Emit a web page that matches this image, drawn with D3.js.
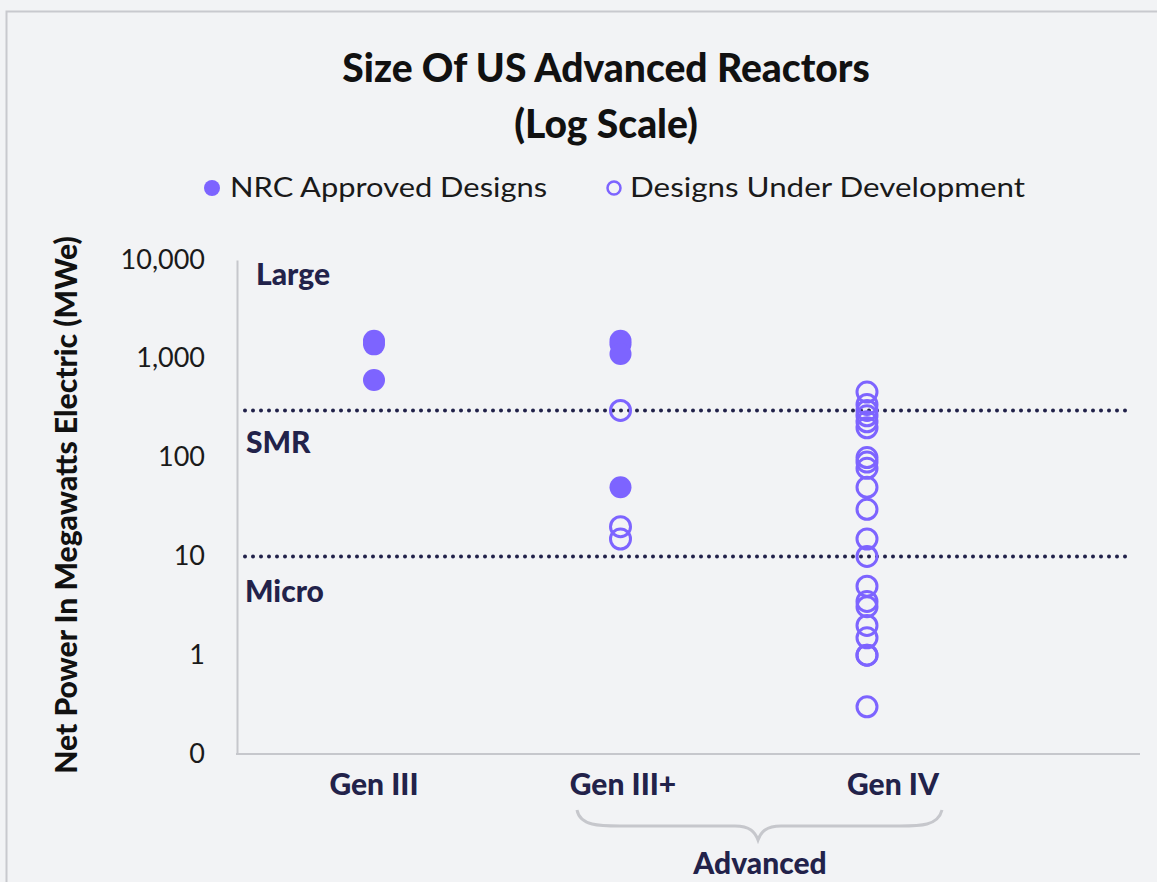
<!DOCTYPE html>
<html><head><meta charset="utf-8">
<script src="https://cdn.jsdelivr.net/npm/d3@7/dist/d3.min.js"></script>
<style>
html,body{margin:0;padding:0;background:#f2f3f5;}
svg{display:block;}
</style></head>
<body>
<script>
// ---- data ----
const categories = ["Gen III", "Gen III+", "Gen IV"];
const approvedGen3 = [1520, 1400, 610];
const approvedGen3Plus = [1520, 1400, 1117, 50];
const developmentGen3Plus = [300, 20, 15];
const developmentGen4 = [460, 345, 300, 265, 230, 200, 100, 90, 78, 50, 30, 15, 10, 5, 3.5, 3.1, 2, 1.5, 1, 1, 0.3];
const yTickValues = [0.1, 1, 10, 100, 1000, 10000];
const yTickLabels = ["0", "1", "10", "100", "1,000", "10,000"];
const thresholds = [300, 10];
const regionLabels = ["Large", "SMR", "Micro"];
const legendLabels = ["NRC Approved Designs", "Designs Under Development"];

const W = 1157, H = 882;
const purple = "#7d64ff", navy = "#22224a", axisGray = "#c6c7cc";
const FONT = "Lato, sans-serif";
const svg = d3.select("body").append("svg").attr("width", W).attr("height", H);

svg.append("rect").attr("width", W).attr("height", H).attr("fill", "#f2f3f5");
// frame
svg.append("path").attr("d", `M6.5,${H} V11.5 H${W}`).attr("fill", "none").attr("stroke", "#c8c9ce").attr("stroke-width", 2);

// title
const title = svg.append("text").attr("text-anchor", "middle").attr("font-family", FONT)
  .attr("font-weight", 900).attr("font-size", 39).attr("fill", "#111");
title.append("tspan").attr("x", 606).attr("y", 82).text("Size Of US Advanced Reactors");
title.append("tspan").attr("x", 606).attr("y", 138).text("(Log Scale)");

// legend
const lg = svg.append("g").attr("font-family", FONT).attr("font-size", 27).attr("fill", "#1a1a1a");
lg.append("circle").attr("cx", 212).attr("cy", 188).attr("r", 8).attr("fill", purple);
lg.append("text").attr("x", 230).attr("y", 197).attr("textLength", 317).attr("lengthAdjust", "spacingAndGlyphs").text(legendLabels[0]);
lg.append("circle").attr("cx", 614).attr("cy", 188).attr("r", 6.5).attr("fill", "none").attr("stroke", purple).attr("stroke-width", 2.5);
lg.append("text").attr("x", 630).attr("y", 197).attr("textLength", 395).attr("lengthAdjust", "spacingAndGlyphs").text(legendLabels[1]);

// scales
const x = d3.scaleLinear().domain([1, 3]).range([374, 867]);
const y = d3.scaleLog().domain([0.1, 10000]).range([754, 260]);
const plotLeft = 237, plotRight = 1140;

// axes
const yAxis = d3.axisLeft(y).tickValues(yTickValues).tickFormat((d, i) => yTickLabels[i]).tickSize(0).tickPadding(32);
const ya = svg.append("g").attr("transform", `translate(${plotLeft},0)`).call(yAxis);
ya.select(".domain").attr("stroke", axisGray).attr("stroke-width", 2);
ya.selectAll("text").attr("font-family", FONT).attr("font-size", 27).attr("fill", "#1a1a1a").attr("dy", "0.3em");
svg.append("line").attr("x1", plotLeft - 1).attr("x2", plotRight).attr("y1", y(0.1)).attr("y2", y(0.1))
  .attr("stroke", axisGray).attr("stroke-width", 2);

// y label
svg.append("text").attr("transform", `translate(77,505) rotate(-90)`).attr("text-anchor", "middle")
  .attr("font-family", FONT).attr("font-weight", 900).attr("font-size", 30).attr("fill", "#111")
  .text("Net Power In Megawatts Electric (MWe)");

// threshold dotted lines
svg.selectAll(".thr").data(thresholds).enter().append("line").attr("class", "thr")
  .attr("x1", 245).attr("x2", 1130).attr("y1", d => y(d)).attr("y2", d => y(d))
  .attr("stroke", navy).attr("stroke-width", 4).attr("stroke-linecap", "round").attr("stroke-dasharray", "0 8");

// region labels (placed relative to the boundaries)
const regionAnchor = [[256, 10000, 14], [246, 300, 32], [245, 10, 35]];
svg.selectAll(".reg").data(regionLabels).enter().append("text").attr("class", "reg")
  .attr("x", (d, i) => regionAnchor[i][0]).attr("y", (d, i) => y(regionAnchor[i][1]) + regionAnchor[i][2])
  .attr("dy", "0.35em").attr("font-family", FONT).attr("font-weight", 900).attr("font-size", 30).attr("fill", navy)
  .text(d => d);

// points
function drawPoints(vals, xi, filled) {
  svg.append("g").selectAll("circle").data(vals).enter().append("circle")
    .attr("cx", x(xi)).attr("cy", d => y(d))
    .attr("r", filled ? 11 : 10)
    .attr("fill", filled ? purple : "none")
    .attr("stroke", filled ? "none" : purple)
    .attr("stroke-width", 3);
}
drawPoints(approvedGen3, 1, true);
drawPoints(approvedGen3Plus, 2, true);
drawPoints(developmentGen3Plus, 2, false);
drawPoints(developmentGen4, 3, false);

// category labels
const labelX = [374, 623, 893];
svg.selectAll(".cat").data(categories).enter().append("text").attr("class", "cat")
  .attr("x", (d, i) => labelX[i]).attr("y", 795).attr("text-anchor", "middle")
  .attr("font-family", FONT).attr("font-weight", 900).attr("font-size", 30).attr("fill", navy)
  .text(d => d);

// brace
svg.append("path")
  .attr("d", "M577,810 C580,826 600,826 620,826 L735,826 C750,826 755,832 758,840 C761,832 766,826 781,826 L900,826 C920,826 938,826 942,810")
  .attr("fill", "none").attr("stroke", axisGray).attr("stroke-width", 3);
svg.append("text").attr("x", 760).attr("y", 874).attr("text-anchor", "middle")
  .attr("font-family", FONT).attr("font-weight", 900).attr("font-size", 30).attr("fill", navy).text("Advanced");
</script>
</body></html>
